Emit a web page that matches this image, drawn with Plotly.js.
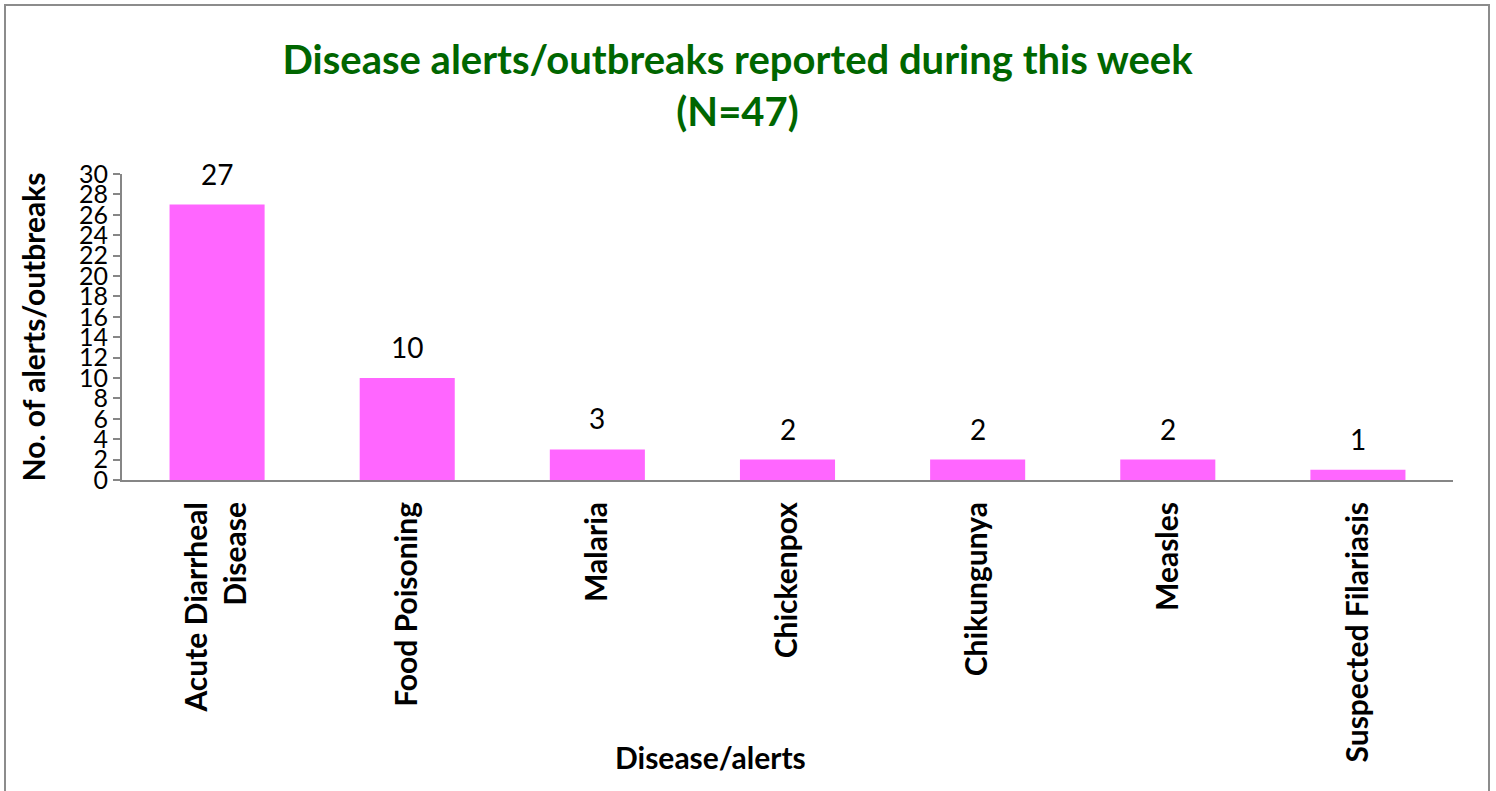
<!DOCTYPE html>
<html>
<head>
<meta charset="utf-8">
<script src="https://cdn.plot.ly/plotly-3.0.1.min.js"></script>
<style>
  html, body { margin:0; padding:0; overflow:hidden; background:#fff; }
  #chart { position:absolute; left:0; top:0; width:1496px; height:791px; }
  #frame { position:absolute; left:4px; top:4px; width:1482px; height:820px; border:2px solid #8c8c8c; pointer-events:none; }
</style>
</head>
<body>
<div id="chart"></div>
<div id="frame"></div>
<script>
const categories = ["Acute Diarrheal<br>Disease", "Food Poisoning", "Malaria", "Chickenpox", "Chikungunya", "Measles", "Suspected Filariasis"];
const counts = [27, 10, 3, 2, 2, 2, 1];
const yTicks = [0, 2, 4, 6, 8, 10, 12, 14, 16, 18, 20, 22, 24, 26, 28, 30];
const titleText = "Disease alerts/outbreaks reported during this week<br>(N=47)";
const xTitle = "Disease/alerts";
const yTitle = "No. of alerts/outbreaks";

const font = "Lato, 'Open Sans', sans-serif";

const trace = {
  type: "bar",
  x: categories,
  y: counts,
  marker: { color: "#FF66FF" },
  hoverinfo: "x+y"
};

const annotations = counts.map((v, i) => ({
  x: categories[i], y: v, xref: "x", yref: "y",
  text: String(v), showarrow: false,
  yanchor: "bottom", yshift: 12,
  font: { family: font, size: 28, color: "#000" }
}));
annotations.push({
  x: (710 - 122) / (1453 - 122), xref: "paper",
  y: (480 - 757) / (480 - 174), yref: "paper",
  yanchor: "middle", xanchor: "center",
  text: "<b>" + xTitle + "</b>", showarrow: false,
  font: { family: font, size: 30, color: "#000" }
});

const layout = {
  width: 1496, height: 791,
  margin: { l: 122, r: 43, t: 174, b: 311 },
  paper_bgcolor: "#fff", plot_bgcolor: "#fff",
  showlegend: false,
  bargap: 0.5,
  title: {
    text: "<b>" + titleText + "</b>",
    x: 0.493, xanchor: "center", xref: "container",
    y: 0.907, yanchor: "middle", yref: "container",
    font: { family: font, size: 40, color: "#006600" }
  },
  xaxis: {
    type: "category",
    tickangle: -90,
    ticklabelstandoff: 8,
    tickfont: { family: font, size: 30, color: "#000", weight: "bold" },
    showline: true, linecolor: "#868686", linewidth: 2,
    ticks: "", showgrid: false, zeroline: false,
    automargin: false
  },
  yaxis: {
    range: [0, 30],
    tickvals: yTicks,
    ticktext: yTicks.map(String),
    tickfont: { family: font, size: 25, color: "#000" },
    showline: true, linecolor: "#868686", linewidth: 2,
    ticks: "outside", ticklen: 7, tickcolor: "#868686", tickwidth: 2,
    showgrid: false, zeroline: false,
    title: { text: "<b>" + yTitle + "</b>", standoff: 24, font: { family: font, size: 30, color: "#000" } },
    automargin: false
  },
  annotations: annotations
};

Plotly.newPlot("chart", [trace], layout, { displayModeBar: false, responsive: false });
</script>
</body>
</html>
